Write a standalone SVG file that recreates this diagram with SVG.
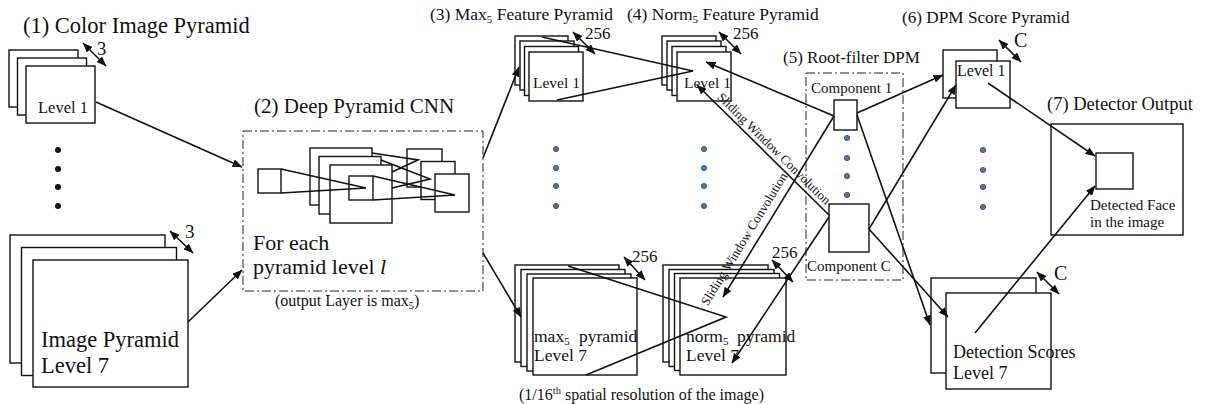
<svg xmlns="http://www.w3.org/2000/svg" width="1212" height="404" viewBox="0 0 1212 404">
<style>
text{font-family:"Liberation Serif","Times New Roman",serif;fill:#111}
.box{fill:#fff;stroke:#111;stroke-width:1.4}
.dash{fill:none;stroke:#222;stroke-width:1;stroke-dasharray:9 3 2 3}
.ln{fill:none;stroke:#111;stroke-width:1.6}
.arr{fill:none;stroke:#111;stroke-width:1.6;marker-end:url(#ah)}
.dbl{fill:none;stroke:#111;stroke-width:1.6;marker-start:url(#ah);marker-end:url(#ah)}
.bd{fill:#4a78b2;stroke:#2b3d5a;stroke-width:0.8}
.kd{fill:#111}
</style>
<defs>
<marker id="ah" viewBox="0 0 10 8" refX="9.5" refY="4" markerWidth="10" markerHeight="8" markerUnits="userSpaceOnUse" orient="auto-start-reverse"><path d="M0,0 L10,4 L0,8 z" fill="#111"/></marker>
</defs>
<rect width="1212" height="404" fill="#fff"/>

<g id="color-pyramid">
<text x="23" y="33" font-size="22.5">(1) Color Image Pyramid</text>
<rect class="box" x="9" y="50" width="69" height="57"/>
<rect class="box" x="17.5" y="58" width="69" height="57"/>
<rect class="box" x="26" y="66" width="69" height="57"/>
<text x="38" y="113" font-size="16.5">Level 1</text>
<path class="dbl" d="M83,43 L106,66"/>
<text x="97" y="55" font-size="18.5">3</text>
<circle class="kd" cx="58" cy="150" r="3"/>
<circle class="kd" cx="58" cy="169" r="3"/>
<circle class="kd" cx="58" cy="187" r="3"/>
<circle class="kd" cx="58" cy="206" r="3"/>
<rect class="box" x="10" y="235" width="155" height="128"/>
<rect class="box" x="21.5" y="247.5" width="155" height="128"/>
<rect class="box" x="33" y="260" width="155" height="127"/>
<path class="dbl" d="M170,231 L193,253"/>
<text x="185" y="238" font-size="19">3</text>
<text x="41" y="347" font-size="22.5">Image Pyramid</text>
<text x="41" y="373" font-size="22.5">Level 7</text>
</g>

<g id="deep-pyramid-cnn">
<text x="254" y="113" font-size="21">(2) Deep Pyramid CNN</text>
<rect class="dash" x="243" y="131" width="240" height="160"/>
<rect class="box" x="258" y="169" width="23" height="24"/>
<rect class="box" x="310" y="148" width="62" height="57"/>
<rect class="box" x="319" y="156.5" width="62" height="57.5"/>
<rect class="box" x="330" y="165" width="62" height="58"/>
<rect class="box" x="349" y="176" width="24" height="24"/>
<rect class="box" x="407" y="149" width="35" height="38"/>
<rect class="box" x="421" y="161.5" width="34" height="38"/>
<rect class="box" x="435" y="174" width="34" height="38"/>
<path class="ln" d="M281,169 L366,188 L281,193"/>
<path class="ln" d="M372,153 L418,160 L392,172"/>
<path class="ln" d="M381,160 L430,179 L392,188"/>
<path class="ln" d="M373,176 L455,195 L373,200"/>
<text x="253" y="250" font-size="22">For each</text>
<text x="253" y="274" font-size="22">pyramid level <tspan font-style="italic">l</tspan></text>
<text x="275" y="306" font-size="16">(output Layer is max<tspan font-size="10.5" dy="3">5</tspan><tspan dy="-3">)</tspan></text>
</g>

<g id="max5-pyramid">
<text x="430" y="20" font-size="17.5">(3) Max<tspan font-size="11" dy="3">5</tspan><tspan dy="-3"> Feature Pyramid</tspan></text>
<rect class="box" x="515" y="36" width="53" height="49"/>
<rect class="box" x="520" y="41" width="54" height="49"/>
<rect class="box" x="524.5" y="46.5" width="54" height="49"/>
<rect class="box" x="529" y="52" width="54" height="49"/>
<text x="533" y="88" font-size="15.5">Level 1</text>
<path class="dbl" d="M573,32 L595,54"/>
<text x="585" y="39" font-size="17">256</text>
<circle class="bd" cx="556" cy="149" r="2.6"/>
<circle class="bd" cx="556" cy="168" r="2.6"/>
<circle class="bd" cx="556" cy="186" r="2.6"/>
<circle class="bd" cx="556" cy="206" r="2.6"/>
<rect class="box" x="515" y="265" width="104" height="97"/>
<rect class="box" x="521" y="269.5" width="104" height="97"/>
<rect class="box" x="527" y="274" width="104" height="97"/>
<rect class="box" x="533" y="278" width="104" height="97"/>
<path class="dbl" d="M624,257 L645,280"/>
<text x="632" y="262" font-size="17">256</text>
<text x="534" y="342" font-size="17.5">max<tspan font-size="11" dy="3">5</tspan><tspan x="579" dy="-3">pyramid</tspan></text>
<text x="534" y="361" font-size="17.5">Level 7</text>
</g>

<g id="norm5-pyramid">
<text x="627" y="20" font-size="17.5">(4) Norm<tspan font-size="11" dy="3">5</tspan><tspan dy="-3"> Feature Pyramid</tspan></text>
<rect class="box" x="662" y="36" width="54" height="49"/>
<rect class="box" x="667" y="41" width="54" height="49"/>
<rect class="box" x="672" y="46.5" width="54" height="49"/>
<rect class="box" x="677" y="52" width="54" height="49"/>
<text x="684" y="88" font-size="15.5">Level 1</text>
<path class="dbl" d="M719,32 L741,54"/>
<text x="733" y="39" font-size="17">256</text>
<circle class="bd" cx="704" cy="149" r="2.6"/>
<circle class="bd" cx="704" cy="168" r="2.6"/>
<circle class="bd" cx="704" cy="186" r="2.6"/>
<circle class="bd" cx="704" cy="206" r="2.6"/>
<rect class="box" x="663" y="265" width="105" height="97"/>
<rect class="box" x="669" y="269.5" width="105" height="97"/>
<rect class="box" x="674.5" y="273.5" width="105" height="97"/>
<rect class="box" x="680" y="278" width="106" height="97"/>
<path class="dbl" d="M772,260 L793,282"/>
<text x="772" y="258" font-size="17">256</text>
<text x="686" y="342" font-size="17.5">norm<tspan font-size="11" dy="3">5</tspan><tspan x="737" dy="-3">pyramid</tspan></text>
<text x="686" y="361" font-size="17.5">Level 7</text>
<text x="519" y="400" font-size="16">(1/16<tspan font-size="10.5" dy="-6">th</tspan><tspan dy="6"> spatial resolution of the image)</tspan></text>
</g>

<g id="root-filter-dpm">
<text x="783" y="63" font-size="17">(5) Root-filter DPM</text>
<rect class="dash" x="806" y="73" width="97" height="207"/>
<text x="811" y="93" font-size="15">Component 1</text>
<rect class="box" x="834" y="100" width="23" height="30"/>
<circle class="bd" cx="847" cy="138" r="2.6"/>
<circle class="bd" cx="847" cy="158" r="2.6"/>
<circle class="bd" cx="847" cy="176" r="2.6"/>
<circle class="bd" cx="847" cy="195" r="2.6"/>
<rect class="box" x="829" y="204" width="40" height="48"/>
<text x="807" y="271" font-size="15">Component C</text>
</g>

<g id="dpm-score-pyramid">
<text x="902" y="23" font-size="17.2">(6) DPM Score Pyramid</text>
<rect class="box" x="943" y="50" width="54" height="48"/>
<rect class="box" x="956" y="61" width="54" height="47"/>
<text x="957" y="76" font-size="16">Level 1</text>
<path class="dbl" d="M999,40 L1021,62"/>
<text x="1014" y="47" font-size="20">C</text>
<circle class="bd" cx="983" cy="150" r="2.6"/>
<circle class="bd" cx="983" cy="170" r="2.6"/>
<circle class="bd" cx="983" cy="187" r="2.6"/>
<circle class="bd" cx="983" cy="207" r="2.6"/>
<rect class="box" x="931" y="278" width="105" height="95"/>
<rect class="box" x="946" y="293" width="105" height="96"/>
<path class="dbl" d="M1037,272 L1059,294"/>
<text x="1054" y="280" font-size="20">C</text>
<text x="953" y="358" font-size="18">Detection Scores</text>
<text x="953" y="379" font-size="18">Level 7</text>
</g>

<g id="detector-output">
<text x="1047" y="110" font-size="18.5">(7) Detector Output</text>
<rect class="box" x="1051" y="124" width="132" height="111"/>
<rect class="box" x="1096" y="153" width="37" height="36"/>
<text x="1090" y="210" font-size="15">Detected Face</text>
<text x="1090" y="227" font-size="15">in the image</text>
</g>

<g id="connectors">
<path class="arr" d="M96,102 L242,167"/>
<path class="arr" d="M188,322 L242,270"/>
<path class="arr" d="M483,158 L519,67"/>
<path class="arr" d="M483,253 L521,317"/>
<path class="ln" d="M542,37 L693,71 L557,100"/>
<path class="ln" d="M568,266 L726,317 L586,375"/>
<path class="arr" d="M834,116 L706,62"/>
<path class="arr" d="M829,215 L697,85"/>
<path class="arr" d="M834,116 L723,297"/>
<path class="arr" d="M829,217 L732,363"/>
<path class="arr" d="M857,113 L943,75"/>
<path class="arr" d="M869,229 L956,85"/>
<path class="arr" d="M857,115 L930,325"/>
<path class="arr" d="M869,229 L948,317"/>
<path class="arr" d="M988,83 L1095,156"/>
<path class="arr" d="M975,333 L1095,186"/>
<text x="716.6" y="97.9" font-size="13" transform="rotate(44.6 716.6 97.9)">Sliding Window Convolution</text>
<text x="707.8" y="306.4" font-size="13" transform="rotate(-58.5 707.8 306.4)">Sliding Window Convolution</text>
</g>
</svg>
